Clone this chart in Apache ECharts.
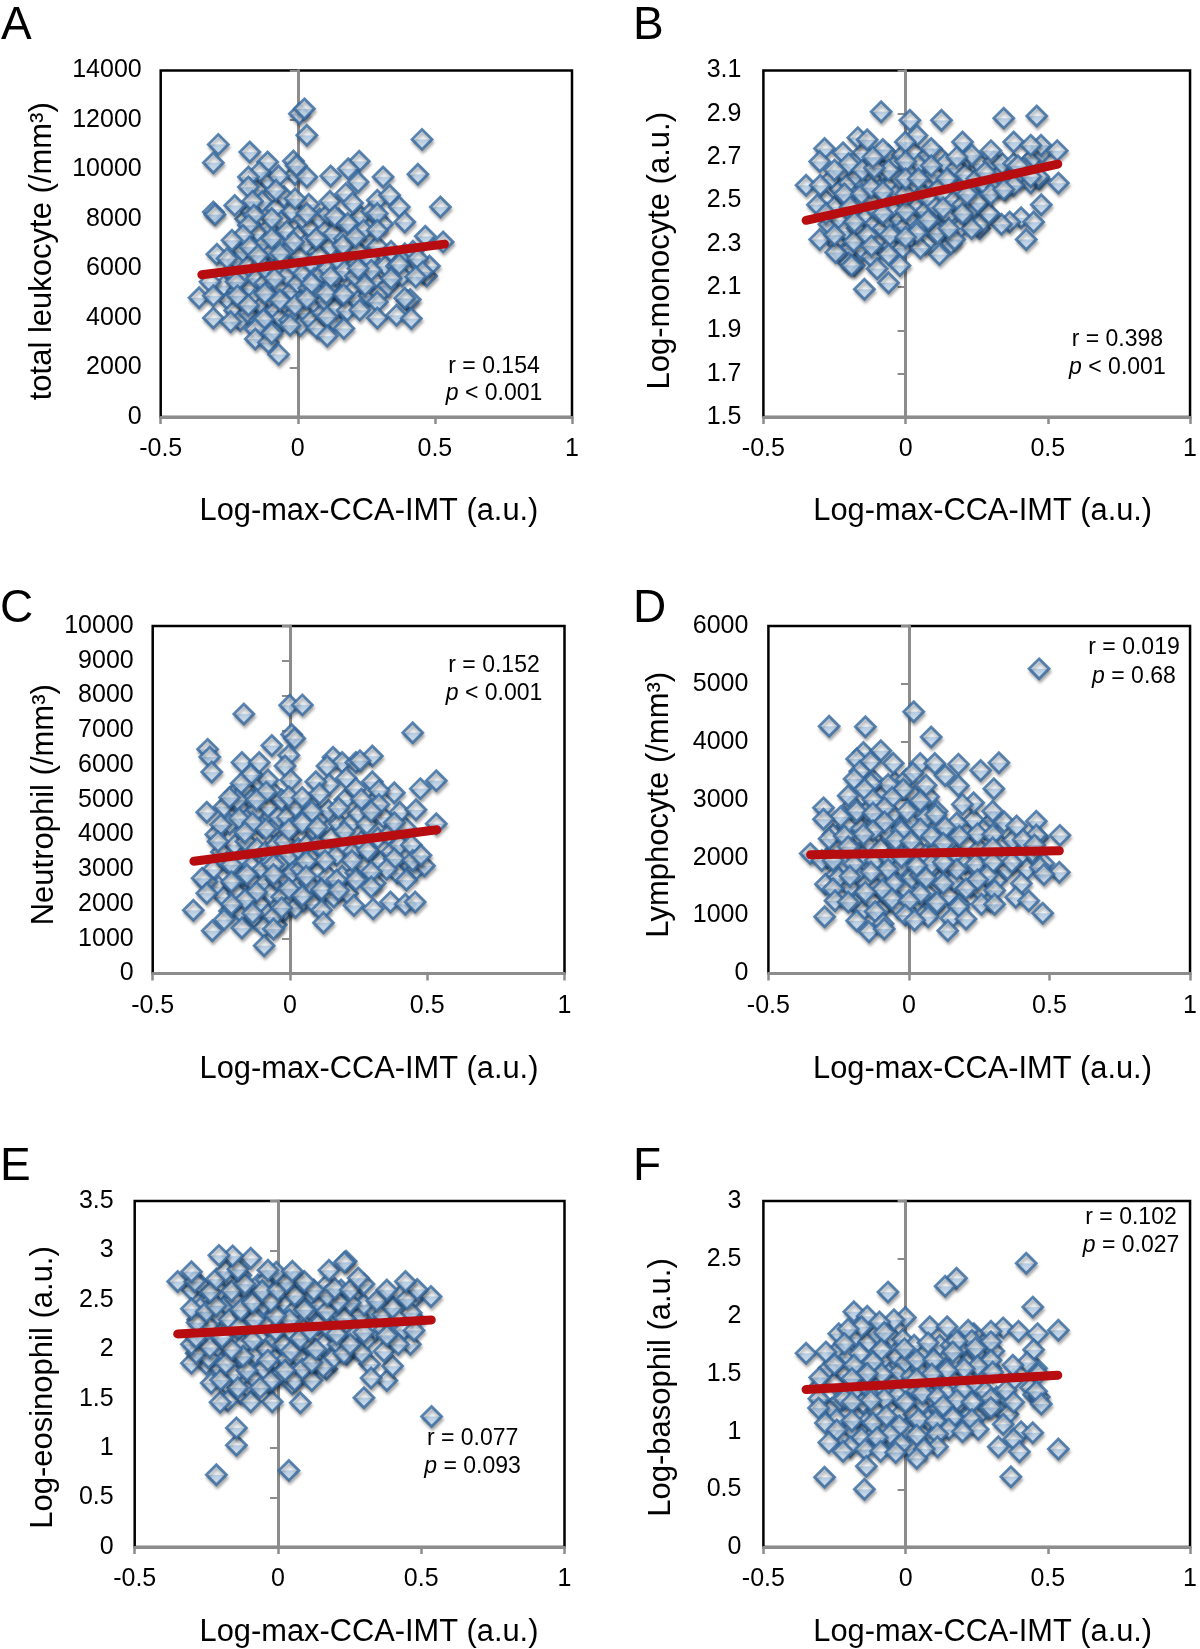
<!DOCTYPE html>
<html>
<head>
<meta charset="utf-8">
<style>html,body{margin:0;padding:0;background:#fff}#c{width:1200px;height:1649px}</style>
<script src="https://cdn.jsdelivr.net/npm/echarts@6/dist/echarts.min.js"></script>
</head>
<body>
<div id="c"></div>
<script>
const xTicks = [-0.5, 0, 0.5, 1];
const yTicksA = [0,2000,4000,6000,8000,10000,12000,14000];
const yTicksB = [1.5,1.7,1.9,2.1,2.3,2.5,2.7,2.9,3.1];
const yTicksC = [0,1000,2000,3000,4000,5000,6000,7000,8000,9000,10000];
const yTicksD = [0,1000,2000,3000,4000,5000,6000];
const yTicksE = [0,0.5,1,1.5,2,2.5,3,3.5];
const yTicksF = [0,0.5,1,1.5,2,2.5,3];

const trendA = [[-0.35,5750],[0.535,6985]];
const trendB = [[-0.35,2.408],[0.535,2.668]];
const trendC = [[-0.35,3230],[0.535,4137]];
const trendD = [[-0.35,2052],[0.535,2119]];
const trendE = [[-0.35,2.155],[0.535,2.297]];
const trendF = [[-0.35,1.365],[0.535,1.49]];

const pointsA = [
[-0.27,5300],[-0.25,4700],[-0.24,5900],[-0.23,4300],[-0.22,6300],[-0.22,5100],[-0.21,3900],[-0.2,4700],[-0.2,6700],[-0.19,5700],[-0.19,8000],[-0.18,4200],[-0.18,6100],[-0.17,5200],[-0.17,8300],[-0.16,4700],[-0.16,6900],[-0.15,5600],[-0.15,9200],[-0.14,3900],[-0.14,7400],[-0.13,4500],[-0.13,6200],[-0.13,8700],[-0.12,5400],[-0.12,7000],[-0.11,4100],[-0.11,5900],[-0.11,9600],[-0.1,4800],[-0.1,7700],[-0.09,3500],[-0.09,5300],[-0.09,6700],[-0.08,4300],[-0.08,8400],[-0.07,5800],[-0.07,7100],[-0.06,4000],[-0.06,5200],[-0.06,7900],[-0.05,6300],[-0.05,8900],[-0.04,4500],[-0.04,5700],[-0.04,7500],[-0.03,3900],[-0.03,6800],[-0.02,5100],[-0.02,8300],[-0.01,4200],[-0.01,6100],[-0.01,9800],[0,5400],[0,7300],[0.01,3700],[0.01,4700],[0.01,6500],[0.02,5800],[0.02,8000],[0.03,4200],[0.03,7000],[0.04,5200],[0.04,8600],[0.05,3900],[0.05,6200],[0.05,7600],[0.06,4600],[0.06,5600],[0.07,3600],[0.07,7200],[0.08,5000],[0.08,6500],[0.08,8000],[0.09,4200],[0.09,5800],[0.1,7500],[0.1,4700],[0.11,6000],[0.11,8200],[0.12,5300],[0.12,6900],[0.13,3900],[0.13,7400],[0.14,5700],[0.14,4400],[0.15,6300],[0.15,8000],[0.16,4900],[0.17,5900],[0.17,7200],[0.18,4300],[0.19,6700],[0.2,5100],[0.2,7800],[0.21,5700],[0.22,4700],[0.22,6700],[0.23,8100],[0.24,5900],[0.25,7200],[0.26,4900],[0.26,6400],[0.27,8300],[0.28,5500],[0.29,6900],[0.3,5000],[0.31,7800],[0.32,6100],[0.33,5300],[0.34,6700],[0.36,6100],[0.38,5700],[0.39,6600],[0.4,4700],[0.42,6700],[0.44,6200],[0.47,5700],[0.48,6100],
[-0.29,11015],[-0.308,10275],[-0.175,10706],[-0.11,10300],[-0.016,10340],[-0.005,10150],[0.006,12250],[0.024,12450],[0.033,11380],[0.453,11217],[0.438,9805],[0.311,9700],[0.224,10330],[0.184,10030],[0.22,9495],[0.12,9737],[0.033,9697],[-0.07,9737],[-0.14,9900],[-0.18,9700],[-0.18,9290],[-0.08,9160],[-0.01,8820],[-0.165,8715],[-0.23,8550],[-0.308,8285],[-0.302,8180],[0.117,8715],[0.175,9025],[0.2,8650],[0.29,8755],[0.335,8960],[0.37,8486],[0.39,7880],[0.52,8486],[0.465,7300],[0.53,7075],[0.29,8218],[0.135,8110],[0.033,8218],[-0.095,8016],[-0.16,8150],[-0.18,7747],[-0.2,7344],[-0.24,7140],[-0.295,6577],[-0.258,6400],[-0.175,6870],[-0.145,6536],[-0.095,7209],[-0.015,7075],[0.067,7209],[0.165,6940],[0.182,7814],[0.24,7545],[0.29,7545],[0.21,7276],[-0.064,6604],[0.37,6173],[0.437,6400],[0.455,5864],[0.43,5662],[0.34,5595],[0.268,5930],[0.22,6000],[0.12,5662],[0.05,5393],[-0.085,5595],[-0.225,5460],[-0.32,5460],[-0.36,4815],[-0.308,4895],[-0.22,4895],[-0.12,4990],[-0.18,4520],[-0.065,4720],[-0.01,4520],[0.033,4790],[0.104,4990],[0.167,4950],[0.245,5325],[0.29,4650],[0.41,4750],[0.39,4800],[0.226,4320],[0.107,4050],[-0.308,4000],[-0.245,3850],[-0.125,3940],[-0.028,3710],[0.29,4000],[0.36,4115],[0.414,3980],[0.168,3580],[0.107,3270],[-0.155,3550],[-0.155,3150],[-0.107,3010],[-0.095,3380],[-0.07,2530]
];
const pointsB = [
[-0.28,2.5],[-0.27,2.39],[-0.26,2.6],[-0.25,2.47],[-0.24,2.3],[-0.23,2.55],[-0.23,2.41],[-0.22,2.25],[-0.22,2.63],[-0.21,2.36],[-0.2,2.5],[-0.2,2.58],[-0.19,2.28],[-0.19,2.44],[-0.18,2.2],[-0.17,2.61],[-0.17,2.37],[-0.16,2.48],[-0.15,2.72],[-0.15,2.27],[-0.14,2.57],[-0.14,2.42],[-0.13,2.66],[-0.13,2.33],[-0.12,2.5],[-0.12,2.24],[-0.11,2.6],[-0.11,2.39],[-0.1,2.7],[-0.1,2.45],[-0.1,2.31],[-0.09,2.55],[-0.08,2.37],[-0.08,2.64],[-0.07,2.49],[-0.06,2.41],[-0.06,2.71],[-0.05,2.57],[-0.05,2.29],[-0.04,2.45],[-0.04,2.66],[-0.03,2.35],[-0.03,2.53],[-0.02,2.6],[-0.02,2.41],[-0.01,2.28],[-0.01,2.71],[0,2.38],[0.01,2.5],[0.01,2.65],[0.02,2.42],[0.02,2.33],[0.03,2.57],[0.03,2.72],[0.04,2.47],[0.05,2.38],[0.05,2.67],[0.06,2.53],[0.07,2.45],[0.07,2.3],[0.08,2.6],[0.08,2.71],[0.09,2.5],[0.1,2.39],[0.1,2.62],[0.11,2.47],[0.12,2.56],[0.12,2.7],[0.13,2.36],[0.14,2.52],[0.14,2.67],[0.15,2.43],[0.16,2.6],[0.16,2.3],[0.17,2.5],[0.18,2.65],[0.19,2.37],[0.19,2.56],[0.2,2.48],[0.21,2.62],[0.22,2.42],[0.22,2.7],[0.23,2.55],[0.24,2.47],[0.25,2.6],[0.26,2.37],[0.26,2.67],[0.27,2.5],[0.28,2.57],[0.29,2.44],[0.3,2.63],[0.31,2.68],[0.32,2.56],[0.33,2.62],[0.34,2.67],[0.35,2.55],[0.37,2.6],[0.38,2.67],[0.4,2.6],[0.42,2.66],[0.44,2.58],[0.45,2.7],[0.47,2.6],[0.48,2.72],
[-0.086,2.91],[0.015,2.87],[0.126,2.87],[0.345,2.88],[0.461,2.89],[0.04,2.8],[-0.001,2.77],[-0.168,2.79],[-0.135,2.78],[-0.285,2.74],[-0.08,2.735],[0.38,2.77],[0.476,2.755],[0.44,2.755],[0.533,2.73],[0.3,2.73],[0.2,2.77],[0.09,2.74],[0.233,2.71],[-0.22,2.72],[-0.302,2.68],[-0.35,2.57],[-0.3,2.57],[-0.2,2.67],[-0.25,2.64],[-0.152,2.64],[-0.06,2.64],[0,2.68],[0.09,2.66],[0.18,2.7],[0.145,2.6],[0.28,2.63],[0.395,2.66],[0.467,2.61],[0.537,2.58],[0.477,2.48],[0.406,2.42],[0.366,2.4],[0.45,2.4],[0.337,2.39],[0.424,2.32],[0.26,2.39],[0.232,2.37],[0.172,2.32],[0.293,2.44],[0.2,2.44],[0.253,2.49],[0.3,2.53],[0.216,2.53],[0.112,2.35],[0.152,2.37],[0.119,2.25],[0.052,2.28],[0.079,2.41],[0.039,2.35],[0.132,2.465],[0,2.45],[-0.08,2.44],[-0.055,2.34],[0,2.33],[-0.06,2.25],[-0.02,2.2],[-0.1,2.185],[-0.06,2.12],[-0.145,2.09],[-0.2,2.21],[-0.19,2.2],[-0.246,2.26],[-0.302,2.32],[-0.25,2.34],[-0.182,2.31],[-0.135,2.34],[-0.12,2.29],[-0.31,2.48],[-0.28,2.44],[-0.215,2.53],[-0.155,2.53],[-0.12,2.56],[-0.08,2.54],[0,2.53],[0,2.6],[0.045,2.6],[-0.11,2.65],[-0.115,2.7],[-0.195,2.47],[-0.18,2.4],[0.38,2.57],[0.345,2.55],[0.44,2.61]
];
const pointsC = [
[-0.28,3000],[-0.27,4000],[-0.26,2500],[-0.25,3500],[-0.24,2200],[-0.24,4800],[-0.23,3200],[-0.22,1800],[-0.22,4300],[-0.21,2600],[-0.2,3700],[-0.2,5200],[-0.19,2300],[-0.18,3300],[-0.18,4800],[-0.17,1700],[-0.17,2800],[-0.16,3800],[-0.16,5300],[-0.15,2200],[-0.15,4500],[-0.14,3100],[-0.14,5000],[-0.13,1600],[-0.13,2600],[-0.12,3600],[-0.12,4700],[-0.11,2000],[-0.11,5500],[-0.1,3000],[-0.1,4200],[-0.09,2600],[-0.09,3500],[-0.08,1700],[-0.08,4800],[-0.07,2300],[-0.07,3200],[-0.06,4200],[-0.06,5200],[-0.05,1400],[-0.05,2700],[-0.05,3700],[-0.04,4500],[-0.03,2200],[-0.03,3200],[-0.03,5000],[-0.02,1800],[-0.02,3800],[-0.01,2700],[-0.01,4500],[0,2000],[0,3400],[0.01,2900],[0.01,4200],[0.02,1900],[0.02,4800],[0.03,2500],[0.03,3600],[0.04,3000],[0.05,4400],[0.05,2100],[0.06,3700],[0.07,2600],[0.07,4900],[0.08,3300],[0.09,2000],[0.09,4100],[0.1,2900],[0.1,3700],[0.11,4500],[0.12,2300],[0.13,3500],[0.14,2800],[0.14,4700],[0.15,3900],[0.16,2200],[0.17,3400],[0.18,4300],[0.19,2800],[0.2,3700],[0.2,5000],[0.21,2300],[0.22,4300],[0.23,3500],[0.24,2900],[0.25,4600],[0.26,3800],[0.27,3100],[0.28,4300],[0.29,3500],[0.3,4900],[0.31,2600],[0.32,3900],[0.33,3200],[0.34,4500],[0.36,4000],[0.37,3500],[0.39,2900],[0.4,3700],[0.42,4200],[0.44,3100],[0.46,3000],[0.49,3100],
[-0.001,7720],[0.045,7730],[-0.168,7470],[0.447,6930],[0.006,6880],[0.017,6760],[-0.066,6560],[-0.3,6450],[-0.292,6230],[-0.285,5800],[-0.004,6280],[-0.018,5970],[-0.175,6075],[-0.112,6075],[0.157,6226],[0.19,6075],[0.24,6075],[0.3,6256],[0.255,6125],[0.135,5970],[0.205,5620],[0.3,5520],[0.533,5550],[0.475,5320],[0.38,5200],[0.324,5270],[0.24,5320],[0.143,5440],[0.094,5520],[0.003,5570],[-0.08,5570],[-0.143,5720],[-0.178,5470],[-0.087,5220],[-0.004,5085],[0.045,5065],[0.108,5170],[-0.192,4995],[-0.22,5065],[-0.122,4995],[0.26,5015],[0.324,4865],[0.177,4760],[0.296,4660],[0.4,4640],[0.459,4710],[0.08,4660],[0.533,4310],[0.38,4340],[-0.303,4640],[-0.252,4280],[-0.185,4460],[-0.136,4330],[-0.087,4160],[-0.004,4140],[0.045,4330],[0.1,4210],[0.198,4080],[-0.164,4060],[-0.262,3800],[0.442,3700],[0.282,3550],[0.38,3300],[0.447,3250],[0.477,3400],[0.352,3000],[0.226,3250],[0.128,3250],[0.059,3220],[-0.06,3130],[-0.213,3130],[-0.06,2850],[-0.157,2850],[-0.213,2640],[-0.303,2640],[-0.32,2740],[0.059,2800],[0.296,2930],[0.24,2690],[0.17,2690],[0.424,2690],[0.296,2490],[-0.004,2440],[-0.122,2340],[0.115,2420],[0.177,2390],[0.045,2240],[-0.303,2310],[-0.164,2120],[0.366,2060],[0.42,1990],[0.456,2060],[0.233,1960],[0.303,1860],[0.115,1820],[-0.213,1990],[-0.352,1820],[-0.24,1550],[-0.283,1230],[-0.175,1310],[-0.094,1330],[-0.06,1630],[0.122,1460],[-0.094,800],[-0.03,1890],[-0.136,1735],[-0.06,1280]
];
const pointsD = [
[-0.29,2000],[-0.27,2400],[-0.26,1700],[-0.25,2150],[-0.24,1350],[-0.23,1900],[-0.22,2550],[-0.21,1500],[-0.2,2150],[-0.2,2900],[-0.19,1200],[-0.18,1700],[-0.17,2500],[-0.16,2050],[-0.16,1100],[-0.15,2800],[-0.15,1550],[-0.14,2250],[-0.13,1250],[-0.13,3350],[-0.12,1950],[-0.11,2650],[-0.11,1500],[-0.1,2150],[-0.1,1100],[-0.09,3100],[-0.09,1700],[-0.08,2450],[-0.07,1300],[-0.07,2000],[-0.06,2750],[-0.05,1650],[-0.05,3300],[-0.04,2200],[-0.04,1150],[-0.03,1850],[-0.02,2550],[-0.01,1450],[-0.01,3350],[0,2100],[0.01,1650],[0.01,2650],[0.02,3050],[0.03,1250],[0.03,2150],[0.04,1700],[0.05,2750],[0.06,2050],[0.06,1400],[0.07,3050],[0.08,1750],[0.08,2500],[0.09,1150],[0.1,2150],[0.1,2800],[0.11,1600],[0.12,2000],[0.13,2400],[0.14,1350],[0.14,1900],[0.15,2250],[0.16,1600],[0.17,2050],[0.18,1200],[0.19,2500],[0.2,1900],[0.21,2200],[0.22,1500],[0.23,2650],[0.24,1800],[0.25,2150],[0.26,1400],[0.27,2500],[0.28,2050],[0.29,1250],[0.3,2650],[0.31,1600],[0.33,2200],[0.35,1800],[0.37,2300],[0.4,2050],[0.42,1800],[0.44,2100],[0.46,2350],[0.48,1900],
[0.463,5260],[0.017,4520],[-0.284,4270],[-0.155,4260],[0.079,4085],[-0.162,3815],[-0.1,3845],[-0.186,3705],[-0.137,3655],[-0.056,3630],[0.04,3625],[0.092,3625],[0.176,3615],[0.32,3640],[0.255,3505],[0.014,3460],[-0.175,3490],[0.129,3420],[-0.195,3360],[-0.074,3265],[-0.135,3280],[0.176,3240],[0.302,3190],[-0.158,3180],[-0.02,3180],[0.061,3250],[-0.216,3070],[-0.06,3040],[-0.128,3000],[0.04,2980],[0.23,2950],[0.19,2920],[-0.304,2860],[-0.186,2800],[-0.087,2860],[-0.006,2800],[0.298,2800],[-0.243,2705],[-0.304,2665],[0.061,2690],[0.095,2740],[-0.128,2770],[-0.087,2615],[0.17,2600],[0.339,2615],[0.383,2545],[0.453,2630],[0.129,2525],[0.04,2495],[-0.128,2465],[-0.027,2465],[0.244,2415],[0.298,2400],[0.537,2385],[-0.284,2325],[-0.162,2400],[-0.23,2375],[0.08,2375],[-0.047,2310],[0.18,2375],[0.453,2390],[0.007,2280],[0.406,2310],[0.122,2250],[-0.216,2190],[0.298,2170],[0.447,2220],[-0.351,2070],[-0.31,1950],[-0.27,1950],[-0.196,1890],[-0.027,2010],[0.366,1920],[0.237,1890],[0.298,1920],[0.467,1830],[0.535,1750],[0.08,1890],[0.027,1860],[-0.074,1800],[-0.135,1750],[0.17,1800],[0.122,1920],[0.278,1690],[0.48,1710],[-0.25,1650],[-0.21,1680],[0.061,1650],[-0.054,1555],[0.122,1555],[0.244,1620],[0.4,1555],[-0.297,1540],[-0.27,1465],[0.203,1465],[0.305,1435],[-0.094,1450],[-0.155,1405],[0.04,1375],[0.38,1315],[-0.263,1255],[-0.216,1235],[-0.06,1285],[0,1255],[0.1,1225],[0.258,1195],[0.426,1255],[0.305,1195],[0.176,1145],[-0.12,1070],[-0.3,980],[0.476,1040],[-0.013,1010],[0.068,980],[0.149,950],[0.203,940],[-0.186,910],[0.02,920],[-0.092,860],[-0.142,720],[0.138,740],[-0.088,770]
];
const pointsE = [
[-0.3,2.6],[-0.28,2.3],[-0.27,2.65],[-0.27,2.05],[-0.26,2.45],[-0.25,1.85],[-0.24,2.25],[-0.23,2.5],[-0.22,2.0],[-0.21,2.35],[-0.2,1.8],[-0.2,2.6],[-0.19,2.15],[-0.18,2.45],[-0.18,1.65],[-0.17,2.3],[-0.17,2.7],[-0.16,1.95],[-0.15,2.5],[-0.15,1.75],[-0.14,2.2],[-0.13,2.75],[-0.13,1.55],[-0.12,2.35],[-0.12,2.05],[-0.11,2.6],[-0.11,1.85],[-0.1,1.6],[-0.1,2.25],[-0.09,2.5],[-0.08,1.95],[-0.08,1.7],[-0.07,2.35],[-0.07,2.65],[-0.06,2.1],[-0.05,1.8],[-0.05,2.45],[-0.04,2.0],[-0.04,2.7],[-0.03,1.65],[-0.03,2.25],[-0.02,2.5],[-0.01,1.9],[-0.01,2.1],[0,2.35],[0.01,1.75],[0.01,2.7],[0.02,2.05],[0.03,2.45],[0.03,1.9],[0.04,2.2],[0.05,1.65],[0.06,2.4],[0.06,2.7],[0.07,2.0],[0.08,1.9],[0.08,2.5],[0.09,2.2],[0.1,1.75],[0.11,2.05],[0.11,2.4],[0.12,2.55],[0.13,1.9],[0.14,2.25],[0.15,2.45],[0.16,2.05],[0.17,1.8],[0.17,2.65],[0.18,2.2],[0.19,1.9],[0.2,2.4],[0.21,2.05],[0.22,2.6],[0.23,2.2],[0.24,1.95],[0.25,2.35],[0.26,2.55],[0.27,2.15],[0.28,2.0],[0.29,2.35],[0.31,2.1],[0.32,1.85],[0.33,2.4],[0.34,2.2],[0.36,2.5],[0.37,2.2],[0.39,2.45],[0.41,2.15],[0.43,2.55],[0.44,2.2],[0.47,2.5],[0.48,2.3],
[-0.215,0.73],[0.038,0.775],[-0.145,1.03],[-0.145,1.205],[0.536,1.32],[0.078,1.46],[0.3,1.51],[-0.02,1.47],[-0.095,1.47],[-0.175,1.48],[-0.202,1.465],[0.38,1.685],[0.325,1.71],[-0.14,1.61],[-0.233,1.66],[-0.2,1.69],[-0.025,1.68],[0.058,1.685],[0.118,1.685],[-0.062,1.61],[0.4,1.83],[0.158,1.82],[0.085,1.8],[0.025,1.785],[-0.108,1.785],[-0.302,1.86],[-0.242,1.915],[-0.182,1.855],[-0.122,1.93],[-0.035,1.89],[0.292,1.96],[0.37,1.98],[0.23,1.96],[0.118,1.87],[0.462,2.05],[0.42,2.05],[0.252,2.05],[0.132,2],[0.045,1.98],[-0.162,2],[-0.285,1.96],[-0.302,2.05],[-0.238,2.02],[-0.089,2.09],[0.078,2.11],[0.38,2.14],[0.3,2.17],[0.475,2.19],[0.205,2.155],[-0.286,2.12],[-0.195,2.12],[-0.008,2.19],[0.112,2.19],[-0.135,2.225],[-0.282,2.27],[-0.082,2.3],[0.04,2.3],[0.17,2.385],[0.465,2.37],[0.232,2.315],[0.365,2.35],[-0.302,2.41],[-0.25,2.38],[-0.216,2.44],[-0.13,2.4],[-0.008,2.34],[0.092,2.4],[0.4,2.42],[0.3,2.45],[0.252,2.47],[-0.089,2.47],[-0.025,2.485],[0.345,2.49],[0.45,2.51],[0.534,2.535],[0.21,2.48],[0.058,2.545],[0.172,2.545],[-0.236,2.58],[-0.162,2.59],[-0.055,2.59],[0,2.6],[0.125,2.6],[0.198,2.615],[0.252,2.6],[0.38,2.6],[0.486,2.605],[0.3,2.66],[-0.115,2.66],[0.03,2.68],[0.092,2.685],[0.445,2.685],[-0.35,2.685],[-0.29,2.685],[-0.215,2.71],[0.28,2.72],[-0.302,2.785],[-0.182,2.79],[-0.006,2.78],[0.05,2.79],[-0.035,2.8],[0.178,2.8],[-0.14,2.81],[0.238,2.89],[0.232,2.88],[-0.095,2.92],[-0.158,2.945],[-0.206,2.95]
];
const pointsF = [
[-0.3,1.4],[-0.29,1.22],[-0.27,1.55],[-0.26,1.2],[-0.25,1.42],[-0.24,1.7],[-0.23,1.27],[-0.22,0.95],[-0.21,1.5],[-0.2,1.15],[-0.2,1.65],[-0.19,1.02],[-0.18,1.35],[-0.18,1.82],[-0.17,1.12],[-0.16,1.5],[-0.15,1.25],[-0.15,0.9],[-0.14,1.4],[-0.13,1.78],[-0.13,1.1],[-0.12,1.53],[-0.11,0.98],[-0.11,1.33],[-0.1,1.85],[-0.1,1.17],[-0.09,1.42],[-0.08,1.62],[-0.07,1.05],[-0.07,1.35],[-0.06,1.5],[-0.05,1.82],[-0.05,1.18],[-0.04,0.9],[-0.04,1.42],[-0.03,1.65],[-0.02,1.15],[-0.02,1.52],[-0.01,1.35],[-0.01,1.8],[0,1.02],[0,1.6],[0.01,1.25],[0.02,1.48],[0.02,0.85],[0.03,1.75],[0.03,1.15],[0.04,1.35],[0.05,1.55],[0.05,1],[0.06,1.25],[0.07,1.68],[0.07,1.42],[0.08,1.1],[0.09,1.6],[0.09,1.3],[0.1,0.95],[0.11,1.45],[0.12,1.75],[0.12,1.2],[0.13,1.05],[0.14,1.55],[0.15,1.35],[0.16,1.75],[0.17,1.15],[0.17,1.45],[0.18,1.6],[0.19,1.25],[0.2,1.75],[0.21,1.05],[0.21,1.4],[0.22,1.6],[0.23,1.15],[0.24,1.85],[0.25,1.4],[0.25,1.68],[0.26,1.15],[0.27,1.5],[0.28,1.35],[0.29,1.2],[0.3,1.55],[0.31,1.7],[0.32,1.3],[0.33,1.2],[0.35,1.3],[0.36,1.15],[0.38,1.45],[0.44,1.38],[0.45,1.32],[0.46,1.55],[0.47,1.3],
[0.424,2.46],[0.179,2.33],[0.139,2.26],[-0.062,2.21],[0.447,2.08],[-0.182,2.04],[-0.001,1.99],[-0.041,1.97],[-0.135,2],[-0.092,1.95],[0.085,1.91],[0.146,1.91],[-0.155,1.91],[0.343,1.9],[0.537,1.88],[0.397,1.87],[0.464,1.85],[0.3,1.87],[0.22,1.88],[-0.235,1.85],[-0.075,1.86],[-0.202,1.89],[0.079,1.77],[0.233,1.79],[0.3,1.78],[0.18,1.785],[-0.215,1.765],[-0.004,1.72],[0.45,1.71],[-0.35,1.68],[-0.28,1.69],[-0.162,1.675],[-0.085,1.71],[0.166,1.69],[0.246,1.725],[0.039,1.62],[0.099,1.625],[-0.115,1.605],[-0.25,1.585],[-0.182,1.575],[0.3,1.62],[0.253,1.57],[0.427,1.6],[0.377,1.575],[0.206,1.545],[0.146,1.53],[0.092,1.5],[-0.084,1.5],[-0.135,1.505],[0.306,1.515],[-0.302,1.47],[-0.189,1.46],[0.039,1.455],[0.467,1.5],[0.2,1.36],[0.353,1.36],[0.46,1.35],[0.059,1.33],[-0.028,1.315],[-0.215,1.285],[-0.305,1.285],[0.3,1.285],[0.112,1.3],[0.18,1.275],[-0.075,1.285],[-0.122,1.27],[-0.001,1.255],[0.233,1.255],[0.38,1.255],[0.477,1.24],[0.132,1.225],[-0.306,1.205],[-0.189,1.255],[0.3,1.21],[-0.242,1.105],[-0.189,1.095],[0.045,1.105],[0.166,1.12],[0.233,1.105],[-0.282,1.075],[-0.115,1.075],[-0.068,1.135],[0.105,1.09],[0.343,1.065],[0.406,1],[-0.022,1.05],[0.152,1.02],[0.255,1.02],[0.2,1],[-0.242,1.015],[0.447,0.99],[-0.055,0.975],[-0.155,0.945],[0.039,0.97],[0.112,0.98],[-0.1,0.95],[-0.27,0.905],[0.38,0.935],[0.112,0.87],[0.326,0.87],[-0.195,0.87],[-0.142,0.845],[-0.015,0.89],[0.4,0.825],[0.537,0.85],[-0.088,0.83],[0.065,0.85],[-0.035,0.82],[-0.22,0.83],[0.039,0.77],[-0.138,0.7],[-0.285,0.605],[0.37,0.61],[-0.145,0.5]
];

const FONT = '"Liberation Sans", Arial, Helvetica, sans-serif';
const panels = [
 {letter:'A',lx:1,ly:26,l:160.7,r:572,t:70.5,b:417,y:yTicksA,pts:pointsA,tr:trendA,yName:'total leukocyte (/mm³)',yGap:103,ySh:7.5,xSh:2.6,xGap:79,lm:19,rx:494,ry:367,py:394,r1:'r = 0.154',p1:' < 0.001'},
 {letter:'B',lx:633,ly:26,l:763.4,r:1193,t:70.5,b:417,y:yTicksB,pts:pointsB,tr:trendB,yName:'Log-monocyte (a.u.)',yGap:87,ySh:7,xSh:6,xGap:79,lm:22,rx:1117.4,ry:340,py:368,r1:'r = 0.398',p1:' < 0.001'},
 {letter:'C',lx:0,ly:609,l:152.7,r:564.5,t:626,b:973.5,y:yTicksC,pts:pointsC,tr:trendC,yName:'Neutrophil (/mm³)',yGap:93,ySh:5,xSh:10.4,xGap:81,lm:19,rx:494,ry:666,py:694,r1:'r = 0.152',p1:' < 0.001'},
 {letter:'D',lx:633,ly:609,l:768.4,r:1193,t:626,b:973.5,y:yTicksD,pts:pointsD,tr:trendD,yName:'Lymphocyte (/mm³)',yGap:93.4,ySh:5,xSh:3.3,xGap:81,lm:20,rx:1134,ry:648,py:677,r1:'r = 0.019',p1:' = 0.68'},
 {letter:'E',lx:0,ly:1167,l:134.7,r:564.5,t:1201,b:1547.5,y:yTicksE,pts:pointsE,tr:trendE,yName:'Log-eosinophil (a.u.)',yGap:76,ySh:13.5,xSh:19.4,xGap:70,lm:21,rx:472.6,ry:1439,py:1467,r1:'r = 0.077',p1:' = 0.093'},
 {letter:'F',lx:633,ly:1167,l:763.4,r:1193,t:1201,b:1547.5,y:yTicksF,pts:pointsF,tr:trendF,yName:'Log-basophil (a.u.)',yGap:86.4,ySh:13.5,xSh:6,xGap:70,lm:22,rx:1131,ry:1217.5,py:1245.5,r1:'r = 0.102',p1:' = 0.027'}
];

const marker = {
  color:{type:'linear',x:0,y:0,x2:0,y2:1,colorStops:[
    {offset:0,color:'#c9def1'},{offset:0.47,color:'#fbfdff'},
    {offset:0.53,color:'#b4d0ec'},{offset:1,color:'#e3eef8'}]},
  borderColor:'#33689f',borderWidth:2.8,
  shadowColor:'rgba(0,0,0,0.32)',shadowBlur:3,shadowOffsetX:1,shadowOffsetY:3
};

const plain = v => String(v);
const grid=[],xAxis=[],yAxis=[],series=[],graphic=[];
panels.forEach((p,i)=>{
  grid.push({left:p.l,top:p.t,width:p.r-p.l,height:p.b-p.t,show:true,backgroundColor:'#fff',borderColor:'#000',borderWidth:2.5});
  const ymin=p.y[0],ymax=p.y[p.y.length-1];
  xAxis.push({gridIndex:i,type:'value',min:-0.5,max:1,position:'bottom',splitLine:{show:false},
    axisLine:{onZero:false,lineStyle:{color:'#8c8c8c',width:3}},
    axisTick:{length:7,inside:false,customValues:xTicks,lineStyle:{color:'#8c8c8c',width:2.5}},
    axisLabel:{customValues:xTicks,margin:20,formatter:plain,fontFamily:FONT,fontSize:25,color:'#000',hideOverlap:false},
    name:'Log-max-CCA-IMT (a.u.)',nameLocation:'middle',nameGap:p.xGap,
    nameTextStyle:{fontFamily:FONT,fontSize:30.8,color:'#000',padding:[0,0,0,2*p.xSh]}});
  yAxis.push({gridIndex:i,type:'value',min:ymin,max:ymax,position:'left',splitLine:{show:false},
    axisLine:{show:false,onZero:false},axisTick:{show:false},
    axisLabel:{customValues:p.y,margin:p.lm,formatter:plain,fontFamily:FONT,fontSize:25,color:'#000'},
    name:p.yName,nameLocation:'middle',nameGap:p.yGap,
    nameTextStyle:{fontFamily:FONT,fontSize:31,color:'#000',padding:[0,2*p.ySh,0,0]}});
  yAxis.push({gridIndex:i,type:'value',min:ymin,max:ymax,position:'left',splitLine:{show:false},
    axisLine:{show:true,onZero:true,lineStyle:{color:'#8c8c8c',width:3}},
    axisTick:{show:true,length:8,customValues:p.y,lineStyle:{color:'#8c8c8c',width:2}},
    axisLabel:{show:false}});
  series.push({type:'scatter',xAxisIndex:i,yAxisIndex:i*2,data:p.pts,symbol:'diamond',symbolSize:20,itemStyle:marker,z:3,silent:true,animation:false});
  series.push({type:'line',xAxisIndex:i,yAxisIndex:i*2,data:p.tr,symbol:'none',z:4,silent:true,animation:false,
    lineStyle:{color:'#b70d10',width:9,cap:'round'}});
  graphic.push({type:'text',x:p.lx,y:p.ly,style:{text:p.letter,fontFamily:FONT,fontSize:46,fill:'#000',align:'left',verticalAlign:'middle'}});
  graphic.push({type:'text',x:p.rx,y:p.ry,z:10,style:{text:p.r1,fontFamily:FONT,fontSize:23,fill:'#000',align:'center',verticalAlign:'middle'}});
  graphic.push({type:'text',x:p.rx,y:p.py,z:10,style:{text:'{i|p}'+p.p1,fontFamily:FONT,fontSize:23,fill:'#000',align:'center',verticalAlign:'middle',
    rich:{i:{fontFamily:FONT,fontSize:23,fontStyle:'italic',fill:'#000'}}}});
});

const chart=echarts.init(document.getElementById('c'),null,{renderer:'canvas'});
chart.setOption({animation:false,backgroundColor:'#fff',grid,xAxis,yAxis,series,graphic});
</script>
</body>
</html>
